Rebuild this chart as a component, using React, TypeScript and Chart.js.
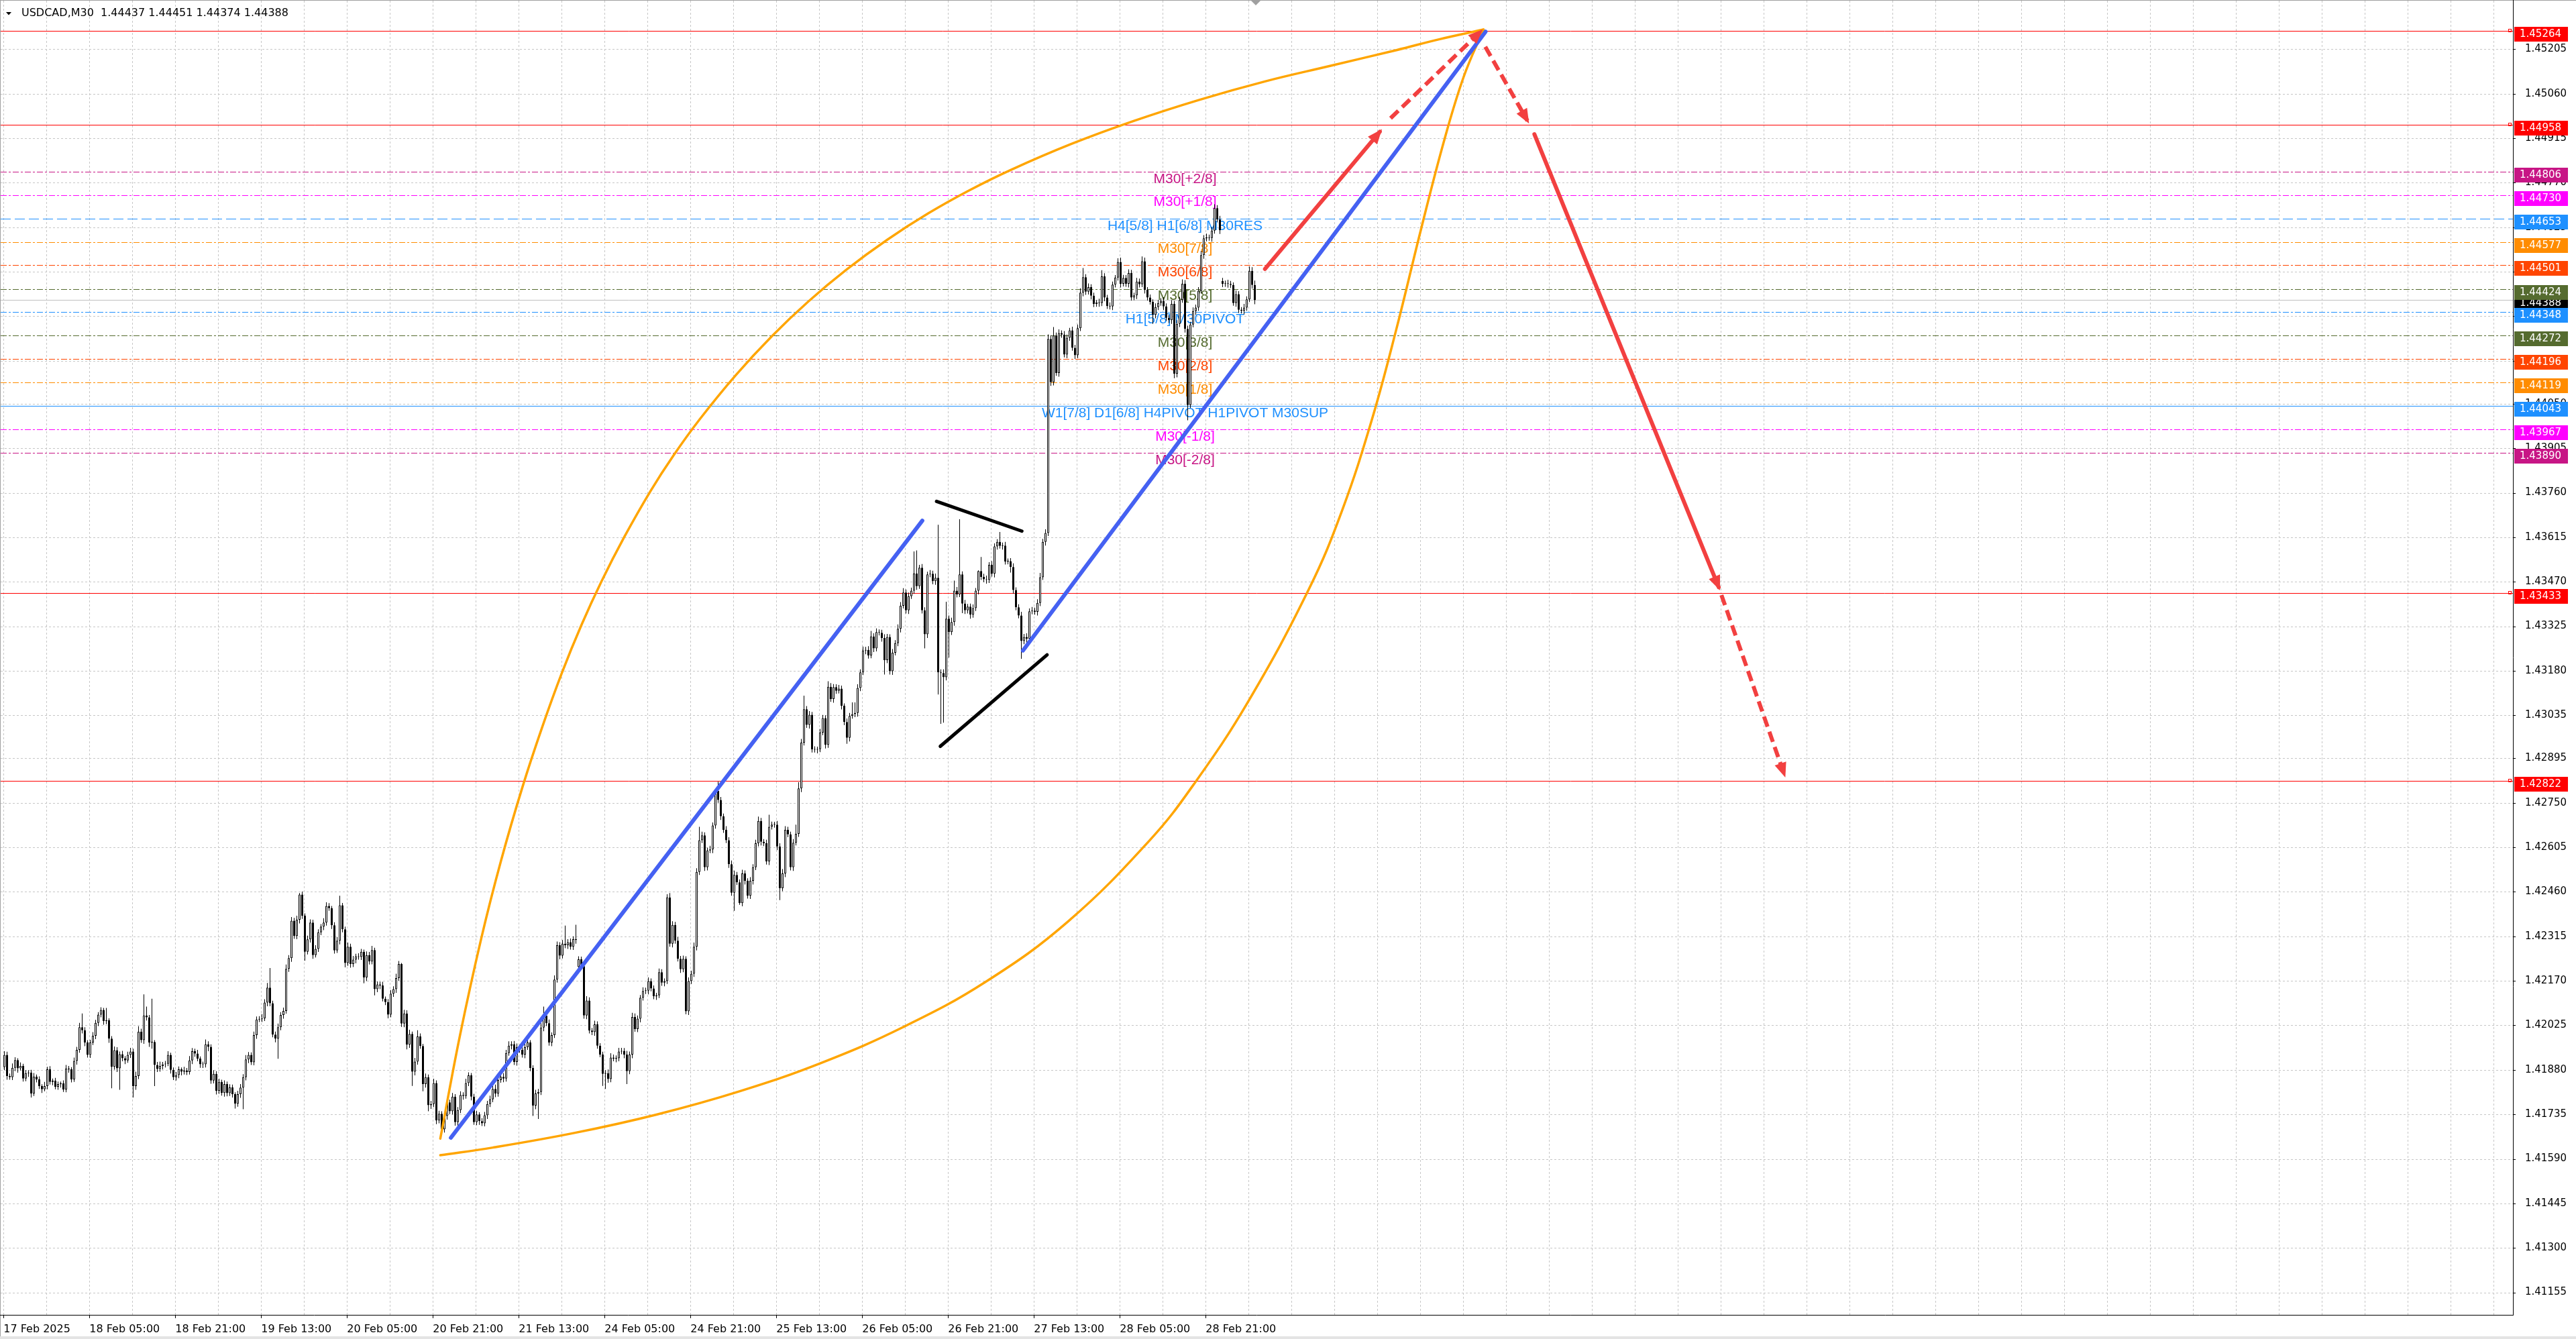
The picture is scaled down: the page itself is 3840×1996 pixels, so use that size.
import React, { useEffect, useRef } from 'react';
import { Chart, registerables } from 'chart.js';

Chart.register(...registerables);

const W = 3840;
const H = 1996;

// ---- candle data (prices in 1e-5 units above 1.00000) ----
const FIRST_OPEN = 41889;
const closePts = [
  41929, 41860, 41856, 41887, 41912, 41885, 41893, 41852, 41869, 41871,
  41803, 41858, 41849, 41827, 41817, 41827, 41882, 41841, 41845, 41825,
  41834, 41836, 41816, 41884, 41882, 41849, 41909, 41945, 42019, 42009,
  41969, 41929, 41969, 41991, 42033, 42060, 42075, 42039, 42042, 41982,
  41890, 41944, 41885, 41931, 41918, 41911, 41929, 41940, 41827, 41860,
  42004, 41977, 42057, 42051, 41969, 41971, 41896, 41883, 41893, 41898,
  41900, 41929, 41880, 41856, 41863, 41882, 41874, 41878, 41873, 41911,
  41941, 41933, 41917, 41898, 41898, 41963, 41955, 41845, 41867, 41812,
  41841, 41805, 41834, 41804, 41823, 41801, 41770, 41801, 41822, 41856,
  41914, 41929, 41905, 41993, 42044, 42046, 42048, 42099, 42148, 42097,
  41995, 41982, 42019, 42059, 42072, 42209, 42244, 42366, 42316, 42369,
  42451, 42382, 42265, 42305, 42360, 42254, 42274, 42328, 42347, 42360,
  42414, 42407, 42351, 42269, 42301, 42416, 42338, 42228, 42281, 42225,
  42239, 42250, 42248, 42265, 42181, 42254, 42233, 42270, 42143, 42158,
  42155, 42112, 42101, 42060, 42128, 42143, 42179, 42225, 42031, 42064,
  41962, 41997, 41874, 41907, 41989, 41958, 41834, 41856, 41765, 41769,
  41837, 41715, 41737, 41686, 41730, 41774, 41745, 41793, 41710, 41749,
  41798, 41795, 41837, 41862, 41793, 41710, 41735, 41713, 41706, 41732,
  41769, 41784, 41818, 41803, 41847, 41857, 41852, 41935, 41959, 41964,
  41906, 41954, 41945, 41930, 41954, 41969, 41886, 41764, 41803, 41808,
  42018, 42057, 42032, 41969, 41993, 42174, 42286, 42252, 42291, 42286,
  42296, 42281, 42306, 42303, 42240, 42218, 42057, 42106, 42008, 42003,
  42028, 41959, 41930, 41867, 41869, 41850, 41920, 41917, 41918, 41940,
  41942, 41930, 41876, 41930, 42052, 42013, 42047, 42115, 42137, 42138,
  42169, 42145, 42120, 42123, 42198, 42164, 42169, 42442, 42291, 42352,
  42301, 42242, 42208, 42242, 42071, 42169, 42193, 42281, 42525, 42628,
  42644, 42540, 42595, 42598, 42676, 42789, 42759, 42706, 42662, 42628,
  42550, 42457, 42515, 42491, 42423, 42520, 42496, 42447, 42496, 42540,
  42618, 42691, 42623, 42618, 42559, 42672, 42679, 42679, 42608, 42472,
  42520, 42662, 42647, 42540, 42620, 42649, 42797, 42946, 43055, 43004,
  43037, 42924, 42923, 42925, 42979, 43026, 42939, 43128, 43088, 43127,
  43115, 43122, 43066, 43013, 42962, 43033, 43039, 43043, 43124, 43175,
  43246, 43248, 43230, 43292, 43253, 43306, 43304, 43287, 43215, 43290,
  43179, 43239, 43270, 43317, 43392, 43435, 43377, 43423, 43441, 43497,
  43456, 43516, 43377, 43299, 43494, 43496, 43472, 43483, 43175, 43173,
  43159, 43350, 43306, 43339, 43441, 43429, 43494, 43399, 43377, 43389,
  43363, 43384, 43441, 43505, 43486, 43478, 43476, 43525, 43496, 43585,
  43600, 43587, 43588, 43536, 43537, 43518, 43443, 43387, 43360, 43277,
  43290, 43285, 43374, 43376, 43372, 43401, 43485, 43600, 43629, 44261,
  44120, 44272, 44150, 44280, 44275, 44210, 44265, 44289, 44232, 44208,
  44296, 44412, 44462, 44415, 44430, 44402, 44375, 44380, 44378, 44465,
  44396, 44368, 44367, 44438, 44461, 44512, 44441, 44460, 44441, 44476,
  44396, 44403, 44448, 44439, 44514, 44421, 44396, 44382, 44340, 44365,
  44378, 44385, 44367, 44330, 44322, 44375, 44148, 44310, 44388, 44441,
  44294, 44046, 44308, 44352, 44363, 44418, 44534, 44589, 44592, 44590,
  44614, 44687, 44650, 44615, 44440, 44442, 44440, 44437, 44378, 44407,
  44356, 44353, 44363, 44390, 44483, 44437, 44388,
];
const upperWick = [
  12, 10, 8, 14, 9, 6, 11, 7, 10, 8,
  9, 12, 7, 10, 6, 14, 8, 10, 7, 9,
  8, 6, 10, 12, 9, 7, 11, 10, 14, 45,
  10, 8, 9, 12, 10, 8, 9, 7, 40, 6,
  8, 12, 10, 9, 11, 7, 10, 12, 9, 14,
  18, 10, 69, 29, 8, 141, 6, 10, 14, 8,
  9, 12, 7, 8, 10, 9, 6, 12, 8, 14,
  10, 8, 12, 7, 9, 16, 10, 8, 12, 9,
  10, 7, 12, 8, 10, 9, 6, 11, 12, 10,
  14, 9, 8, 12, 10, 9, 14, 11, 15, 64,
  8, 10, 12, 9, 11, 14, 10, 12, 9, 13,
  5, 10, 8, 12, 10, 9, 12, 10, 8, 14,
  12, 9, 7, 10, 12, 31, 8, 9, 14, 10,
  12, 8, 10, 9, 7, 12, 10, 14, 8, 10,
  9, 12, 7, 10, 12, 9, 14, 10, 3, 12,
  10, 14, 8, 12, 20, 10, 7, 12, 9, 10,
  14, 9, 10, 8, 12, 10, 9, 12, 8, 10,
  12, 9, 14, 10, 8, 9, 12, 7, 10, 11,
  10, 12, 9, 14, 10, 8, 12, 10, 14, 9,
  10, 12, 8, 9, 12, 10, 8, 9, 12, 10,
  14, 29, 10, 12, 9, 14, 12, 10, 12, 59,
  10, 12, 9, 47, 10, 9, 12, 14, 10, 9,
  12, 10, 8, 9, 10, 12, 14, 10, 9, 12,
  10, 9, 12, 10, 14, 12, 10, 9, 12, 10,
  12, 9, 10, 8, 12, 10, 9, 10, 14, 12,
  10, 12, 9, 10, 8, 12, 10, 14, 12, 44,
  12, 10, 9, 12, 10, 5, 30, 10, 9, 12,
  10, 12, 14, 10, 9, 12, 10, 8, 12, 10,
  12, 14, 10, 9, 12, 39, 10, 9, 12, 10,
  14, 12, 10, 9, 12, 30, 20, 12, 44, 10,
  12, 9, 10, 8, 12, 10, 9, 18, 12, 10,
  9, 12, 10, 8, 12, 10, 38, 34, 12, 10,
  13, 10, 12, 18, 10, 12, 9, 10, 12, 10,
  9, 12, 10, 14, 12, 14, 10, 12, 10, 72,
  75, 9, 12, 10, 9, 12, 10, 14, 173, 10,
  12, 55, 10, 14, 33, 12, 180, 10, 12, 9,
  10, 12, 9, 2, 46, 10, 12, 9, 12, 10,
  9, 32, 10, 12, 9, 10, 12, 9, 10, 12,
  10, 12, 9, 12, 10, 12, 14, 10, 12, 15,
  12, 28, 10, 12, 9, 12, 10, 8, 12, 10,
  12, 14, 30, 10, 12, 9, 10, 8, 12, 20,
  10, 9, 12, 10, 8, 12, 14, 10, 9, 12,
  10, 9, 12, 10, 16, 12, 9, 10, 8, 12,
  10, 9, 12, 10, 9, 12, 10, 12, 10, 14,
  12, 10, 9, 12, 10, 12, 14, 10, 12, 9,
  12, 13, 10, 12, 10, 9, 12, 10, 8, 12,
  10, 9, 12, 10, 14, 12, 14,
];
const lowerWick = [
  10, 12, 8, 9, 11, 14, 7, 10, 9, 12,
  13, 8, 10, 9, 12, 7, 10, 9, 11, 8,
  10, 12, 8, 9, 11, 10, 8, 12, 9, 10,
  12, 9, 10, 8, 11, 10, 9, 12, 10, 14,
  70, 9, 12, 70, 10, 12, 8, 10, 37, 12,
  10, 9, 12, 10, 14, 20, 69, 10, 9, 12,
  10, 8, 12, 9, 11, 10, 12, 9, 10, 8,
  12, 10, 9, 11, 12, 10, 14, 10, 9, 12,
  10, 9, 12, 10, 9, 11, 16, 10, 12, 70,
  10, 12, 9, 10, 12, 8, 10, 9, 12, 10,
  9, 12, 66, 10, 12, 9, 10, 12, 9, 10,
  12, 10, 29, 9, 10, 12, 8, 10, 9, 12,
  10, 9, 12, 10, 8, 12, 10, 14, 9, 12,
  10, 12, 9, 10, 19, 12, 10, 9, 20, 10,
  12, 9, 10, 12, 9, 10, 12, 9, 11, 12,
  15, 10, 46, 12, 10, 9, 24, 12, 20, 12,
  10, 12, 9, 11, 10, 12, 9, 10, 12, 29,
  10, 12, 9, 10, 12, 9, 10, 12, 9, 10,
  12, 10, 9, 12, 10, 9, 12, 10, 9, 12,
  10, 12, 9, 10, 12, 9, 10, 34, 12, 83,
  10, 12, 9, 10, 12, 9, 10, 12, 9, 10,
  12, 9, 10, 12, 10, 9, 10, 12, 9, 10,
  12, 10, 9, 39, 49, 12, 10, 9, 12, 10,
  9, 12, 42, 10, 12, 9, 10, 12, 9, 10,
  12, 9, 10, 12, 9, 10, 12, 9, 10, 12,
  10, 9, 12, 10, 10, 12, 9, 10, 12, 10,
  9, 12, 10, 9, 12, 10, 9, 12, 10, 9,
  12, 10, 59, 9, 5, 10, 12, 9, 10, 12,
  9, 10, 12, 9, 10, 12, 9, 10, 12, 39,
  10, 12, 9, 10, 12, 9, 10, 12, 9, 10,
  12, 10, 9, 12, 10, 9, 12, 10, 9, 12,
  10, 9, 12, 10, 20, 12, 9, 10, 12, 10,
  9, 12, 10, 9, 12, 10, 9, 12, 47, 10,
  11, 12, 9, 10, 12, 9, 10, 12, 9, 10,
  12, 9, 10, 46, 12, 9, 10, 12, 72, 166,
  148, 10, 83, 9, 12, 10, 9, 31, 12, 10,
  13, 10, 9, 12, 10, 9, 12, 10, 9, 12,
  10, 9, 12, 10, 9, 18, 12, 10, 9, 58,
  10, 33, 12, 10, 9, 12, 10, 9, 12, 10,
  12, 10, 9, 12, 10, 9, 12, 10, 9, 12,
  10, 9, 12, 10, 9, 12, 10, 9, 12, 10,
  12, 9, 10, 12, 9, 10, 12, 9, 10, 12,
  10, 9, 12, 10, 9, 12, 10, 9, 30, 12,
  10, 9, 12, 10, 9, 12, 15, 12, 10, 9,
  12, 50, 10, 9, 12, 10, 9, 12, 10, 9,
  12, 10, 9, 12, 10, 9, 12, 10, 9, 12,
  10, 9, 12, 10, 9, 12, 14,
];
// weekend gap opens (bar index -> open)
const gapOpenIndex = [214, 454];
const gapOpenPts = [42215, 44450];

// ---- axes ----
const xTickLabels = [
  '17 Feb 2025', '18 Feb 05:00', '18 Feb 21:00', '19 Feb 13:00', '20 Feb 05:00',
  '20 Feb 21:00', '21 Feb 13:00', '24 Feb 05:00', '24 Feb 21:00', '25 Feb 13:00',
  '26 Feb 05:00', '26 Feb 21:00', '27 Feb 13:00', '28 Feb 05:00', '28 Feb 21:00',
];
const yTickValues = [
  1.45205, 1.4506, 1.44915, 1.4477, 1.44625, 1.4448, 1.44335, 1.4419, 1.4405, 1.43905,
  1.4376, 1.43615, 1.4347, 1.43325, 1.4318, 1.43035, 1.42895, 1.4275, 1.42605, 1.4246,
  1.42315, 1.4217, 1.42025, 1.4188, 1.41735, 1.4159, 1.41445, 1.413, 1.41155,
];

// ---- horizontal levels ----
const levelPrices = [
  1.45264, 1.44958, 1.44806, 1.4473, 1.44653, 1.44577, 1.44501, 1.44424, 1.44348,
  1.44272, 1.44196, 1.44119, 1.44043, 1.43967, 1.4389, 1.43433, 1.42822,
];
const levelColors = [
  '#FF0000', '#FF0000', '#C71585', '#FF00FF', '#1E90FF', '#FF8C00', '#FF4500', '#556B2F', '#1E90FF',
  '#556B2F', '#FF4500', '#FF8C00', '#1E90FF', '#FF00FF', '#C71585', '#FF0000', '#FF0000',
];
const levelStyles = [
  'solid', 'solid', 'dashdot', 'dashdot', 'dash', 'dashdot', 'dashdot', 'dashdot', 'dashdot',
  'dashdot', 'dashdot', 'dashdot', 'solid', 'dashdot', 'dashdot', 'solid', 'solid',
];
const levelTexts = [
  '', '', 'M30[+2/8]', 'M30[+1/8]', 'H4[5/8] H1[6/8] M30RES', 'M30[7/8]', 'M30[6/8]', 'M30[5/8]',
  'H1[5/8] M30PIVOT', 'M30[3/8]', 'M30[2/8]', 'M30[1/8]', 'W1[7/8] D1[6/8] H4PIVOT H1PIVOT M30SUP',
  'M30[-1/8]', 'M30[-2/8]', '', '',
];
const LEVEL_TEXT_BAR = 440;
const currentPrice = 1.44388;
const titleText = 'USDCAD,M30  1.44437 1.44451 1.44374 1.44388';

// ---- drawn objects (bar index, price) ----
const upperArcBar = [
  162.46, 169.81, 177.77, 185.11, 193.07, 200.42, 207.77, 215.11, 222.46, 231.03,
  240.83, 249.4, 259.19, 272.66, 286.13, 299.6, 313.68, 328.99, 344.3, 359.6,
  374.91, 397.56, 420.83, 445.32, 469.81, 494.3, 518.79, 534.7, 551.23,
];
const upperArcPrice = [
  1.41656, 1.41993, 1.4231, 1.42562, 1.42801, 1.42996, 1.43173, 1.4333, 1.4347, 1.43616,
  1.43766, 1.43882, 1.44, 1.44144, 1.44271, 1.44383, 1.44486, 1.44584, 1.4467, 1.44745,
  1.44811, 1.44896, 1.44971, 1.4504, 1.451, 1.45151, 1.45202, 1.45237, 1.45269,
];
const lowerArcBar = [
  162.46, 182.05, 212.66, 243.28, 273.89, 304.5, 335.11, 365.73, 396.34, 426.95,
  443.49, 463.68, 486.33, 498.57, 509.6, 518.79, 527.97, 536.55, 543.89, 551.23,
];
const lowerArcPrice = [
  1.41602, 1.41627, 1.41675, 1.41735, 1.4181, 1.41903, 1.4202, 1.42167, 1.42363, 1.42629,
  1.42813, 1.43082, 1.43449, 1.43703, 1.43997, 1.44294, 1.44619, 1.44907, 1.45116, 1.45269,
];
const trendABar = [166.4, 342.1];
const trendAPrice = [1.41659, 1.43669];
const trendBBar = [379.6, 552.0];
const trendBPrice = [1.43246, 1.45262];
const blackUpperBar = [347.4, 379.2];
const blackUpperPrice = [1.43732, 1.43635];
const blackLowerBar = [348.8, 388.6];
const blackLowerPrice = [1.42934, 1.43232];
const arrowBars = [[469.8, 512.6], [516.6, 550.1], [551.9, 567.6], [570.2, 638.9], [639.9, 663.3]];
const arrowPrices = [[1.44489, 1.44936], [1.4498, 1.45262], [1.45213, 1.44972], [1.44928, 1.43452], [1.43427, 1.42843]];
const arrowDashed = [false, true, true, false, true];

const X_MIN = -1.375;
const X_MAX = 934.875;
const Y_MIN = 1.41082;
const Y_MAX = 1.45363;

const toPrice = (p: number) => 1 + p / 100000;

function dashFor(style: string): number[] {
  if (style === 'dash') return [15, 6];
  if (style === 'dashdot') return [9, 3, 3, 3];
  return [];
}

function hline(ctx: CanvasRenderingContext2D, x1: number, x2: number, y: number) {
  ctx.beginPath();
  ctx.moveTo(x1, y);
  ctx.lineTo(x2, y);
  ctx.stroke();
}
function vline(ctx: CanvasRenderingContext2D, x: number, y1: number, y2: number) {
  ctx.beginPath();
  ctx.moveTo(x, y1);
  ctx.lineTo(x, y2);
  ctx.stroke();
}

const mt4Plugin = {
  id: 'mt4Decor',
  beforeDatasetsDraw(chart: any) {
    const { ctx, chartArea: a, scales } = chart;
    const xs = scales.x;
    const ys = scales.y;
    ctx.save();
    ctx.beginPath();
    ctx.rect(a.left, a.top, a.right - a.left, a.bottom - a.top);
    ctx.clip();
    ctx.lineWidth = 1;
    ctx.strokeStyle = '#c6c6c6';
    ctx.setLineDash([3, 3]);
    xs.ticks.forEach((t: any) => {
      const px = Math.round(xs.getPixelForValue(t.value)) + 0.5;
      vline(ctx, px, a.top, a.bottom);
    });
    ys.ticks.forEach((t: any) => {
      const py = Math.round(ys.getPixelForValue(t.value)) + 0.5;
      hline(ctx, a.left, a.right, py);
    });
    ctx.setLineDash([]);
    ctx.strokeStyle = '#c0c0c0';
    hline(ctx, a.left, a.right, Math.round(ys.getPixelForValue(currentPrice)) + 0.5);
    levelPrices.forEach((p, k) => {
      const py = Math.round(ys.getPixelForValue(p)) + 0.5;
      ctx.strokeStyle = levelColors[k];
      ctx.setLineDash(dashFor(levelStyles[k]));
      hline(ctx, a.left, a.right, py);
    });
    ctx.setLineDash([]);
    levelPrices.forEach((p, k) => {
      if (levelColors[k] !== '#FF0000') return;
      const py = Math.round(ys.getPixelForValue(p));
      ctx.strokeStyle = '#FF0000';
      ctx.strokeRect(a.right - 6.5, py - 2.5, 4, 4);
    });
    ctx.font = '21px "Liberation Sans", Arial, sans-serif';
    ctx.textAlign = 'center';
    ctx.textBaseline = 'middle';
    const tx = xs.getPixelForValue(LEVEL_TEXT_BAR);
    levelPrices.forEach((p, k) => {
      if (!levelTexts[k]) return;
      ctx.fillStyle = levelColors[k];
      ctx.fillText(levelTexts[k], tx, ys.getPixelForValue(p) + 11);
    });
    ctx.restore();
  },
  afterDatasetsDraw(chart: any) {
    const { ctx } = chart;
    ctx.save();
    chart.data.datasets.forEach((ds: any, idx: number) => {
      if (!ds.arrowHead) return;
      const meta = chart.getDatasetMeta(idx);
      const pts = meta.data;
      if (pts.length < 2) return;
      const p0 = pts[pts.length - 2];
      const p1 = pts[pts.length - 1];
      const dx = p1.x - p0.x;
      const dy = p1.y - p0.y;
      const len = Math.hypot(dx, dy) || 1;
      const ux = dx / len;
      const uy = dy / len;
      const tipX = p1.x + ux * 5;
      const tipY = p1.y + uy * 5;
      const L = 22;
      const hw = 9;
      ctx.fillStyle = ds.borderColor;
      ctx.beginPath();
      ctx.moveTo(tipX, tipY);
      ctx.lineTo(tipX - ux * L - uy * hw, tipY - uy * L + ux * hw);
      ctx.lineTo(tipX - ux * L + uy * hw, tipY - uy * L - ux * hw);
      ctx.closePath();
      ctx.fill();
    });
    ctx.restore();
  },
  afterDraw(chart: any) {
    const { ctx, chartArea: a, scales } = chart;
    const xs = scales.x;
    const ys = scales.y;
    ctx.save();
    ctx.setLineDash([]);
    ctx.lineWidth = 1;
    // frame
    ctx.strokeStyle = '#a0a0a0';
    vline(ctx, 0.5, 0, H);
    hline(ctx, 0, W, 0.5);
    ctx.fillStyle = '#e4e4e4';
    ctx.fillRect(0, H - 4, W, 4);
    // axis lines
    ctx.strokeStyle = '#000000';
    vline(ctx, a.right + 0.5, 0, a.bottom + 1);
    hline(ctx, 0, a.right + 1, a.bottom + 0.5);
    ys.ticks.forEach((t: any) => {
      const py = Math.round(ys.getPixelForValue(t.value)) + 0.5;
      hline(ctx, a.right, a.right + 4, py);
    });
    xs.ticks.forEach((t: any, k: number) => {
      if (k % 2 !== 0 || k / 2 >= xTickLabels.length) return;
      const px = Math.round(xs.getPixelForValue(t.value)) + 0.5;
      vline(ctx, px, a.bottom, a.bottom + 5);
    });
    // price labels on the right axis
    ctx.font = '15px "DejaVu Sans", sans-serif';
    ctx.textAlign = 'left';
    ctx.textBaseline = 'middle';
    const drawBox = (price: number, color: string) => {
      const py = ys.getPixelForValue(price);
      ctx.fillStyle = color;
      ctx.fillRect(a.right + 2, Math.round(py) - 6, 80, 22);
      ctx.fillStyle = '#ffffff';
      ctx.fillText(price.toFixed(5), a.right + 10, Math.round(py) + 5);
    };
    drawBox(currentPrice, '#000000');
    levelPrices.forEach((p, k) => drawBox(p, levelColors[k]));
    // title
    ctx.fillStyle = '#000000';
    ctx.beginPath();
    ctx.moveTo(9, 18);
    ctx.lineTo(17, 18);
    ctx.lineTo(13, 22.5);
    ctx.closePath();
    ctx.fill();
    ctx.font = '16px "DejaVu Sans", sans-serif';
    ctx.textBaseline = 'middle';
    ctx.fillText(titleText, 32, 20);
    // chart shift marker
    const sx = xs.getPixelForValue(closePts.length - 1) + 1.5;
    ctx.fillStyle = '#a0a0a0';
    ctx.beginPath();
    ctx.moveTo(sx - 7, 1);
    ctx.lineTo(sx + 7, 1);
    ctx.lineTo(sx, 8);
    ctx.closePath();
    ctx.fill();
    ctx.restore();
  },
};

export default function App() {
  const ref = useRef<HTMLCanvasElement>(null);
  useEffect(() => {
    document.body.style.margin = '0';
    document.body.style.background = '#ffffff';
    const canvas = ref.current;
    if (!canvas) return;

    const opens = closePts.map((c, i) => {
      const g = gapOpenIndex.indexOf(i);
      if (g >= 0) return gapOpenPts[g];
      return i === 0 ? FIRST_OPEN : closePts[i - 1];
    });
    const bodyData = closePts.map((c, i) => ({
      x: i,
      y: [toPrice(Math.min(opens[i], c)), toPrice(Math.max(opens[i], c))],
    }));
    const wickData = closePts.map((c, i) => ({
      x: i,
      y: [toPrice(Math.min(opens[i], c) - lowerWick[i]), toPrice(Math.max(opens[i], c) + upperWick[i])],
    }));
    const bodyColors = closePts.map((c, i) => (c >= opens[i] ? '#ffffff' : '#000000'));

    const pts = (bars: number[], prices: number[]) => bars.map((b, i) => ({ x: b, y: prices[i] }));
    const lineDs = (data: any[], color: string, width: number, extra: any = {}) => ({
      type: 'line',
      data,
      borderColor: color,
      backgroundColor: color,
      borderWidth: width,
      pointRadius: 0,
      pointHoverRadius: 0,
      fill: false,
      tension: 0,
      borderCapStyle: 'round',
      borderJoinStyle: 'round',
      order: 2,
      ...extra,
    });

    const datasets: any[] = [
      {
        type: 'bar',
        label: 'wick',
        data: wickData,
        backgroundColor: '#000000',
        borderWidth: 0,
        barThickness: 1,
        grouped: false,
        minBarLength: 1,
        inflateAmount: 0,
        order: 10,
      },
      {
        type: 'bar',
        label: 'body',
        data: bodyData,
        backgroundColor: bodyColors,
        borderColor: '#000000',
        borderWidth: 1,
        borderSkipped: false,
        barThickness: 3,
        grouped: false,
        minBarLength: 1,
        inflateAmount: 0,
        order: 9,
      },
      lineDs(pts(upperArcBar, upperArcPrice), '#FFA500', 3.5, { tension: 0.4, order: 4 }),
      lineDs(pts(lowerArcBar, lowerArcPrice), '#FFA500', 3.5, { tension: 0.4, order: 4 }),
      lineDs(pts(trendABar, trendAPrice), '#4561F2', 6, { order: 3 }),
      lineDs(pts(trendBBar, trendBPrice), '#4561F2', 6, { order: 3 }),
      lineDs(pts(blackUpperBar, blackUpperPrice), '#000000', 5, { order: 3 }),
      lineDs(pts(blackLowerBar, blackLowerPrice), '#000000', 5, { order: 3 }),
    ];
    arrowBars.forEach((bars, k) => {
      datasets.push(
        lineDs(pts(bars, arrowPrices[k]), '#F24040', 6, {
          borderDash: arrowDashed[k] ? [16, 8] : [],
          borderCapStyle: arrowDashed[k] ? 'butt' : 'round',
          arrowHead: true,
          order: 1,
        })
      );
    });

    const chart = new Chart(canvas, {
      type: 'bar',
      data: { datasets },
      options: {
        animation: false,
        responsive: false,
        devicePixelRatio: 1,
        events: [],
        layout: { padding: { left: 1, top: 1, right: 0, bottom: 0 }, autoPadding: false },
        plugins: { legend: { display: false }, tooltip: { enabled: false }, title: { display: false } },
        scales: {
          x: {
            type: 'linear',
            min: X_MIN,
            max: X_MAX,
            offset: false,
            position: 'bottom',
            grid: { display: false },
            border: { display: false },
            afterBuildTicks: (scale: any) => {
              const t: any[] = [];
              for (let k = 0; -0.3 + 16 * k < X_MAX; k++) t.push({ value: -0.3 + 16 * k });
              scale.ticks = t;
            },
            afterFit: (scale: any) => {
              scale.height = 36;
              scale.paddingLeft = 0;
              scale.paddingRight = 0;
              scale.paddingTop = 0;
              scale.paddingBottom = 0;
            },
            ticks: {
              autoSkip: false,
              maxRotation: 0,
              minRotation: 0,
              align: 'start',
              padding: 4,
              color: '#000000',
              font: { family: 'DejaVu Sans', size: 16 },
              callback: (_v: any, idx: number) => (idx % 2 === 0 && idx / 2 < xTickLabels.length ? xTickLabels[idx / 2] : ''),
            },
          },
          y: {
            type: 'linear',
            position: 'right',
            min: Y_MIN,
            max: Y_MAX,
            grid: { display: false },
            border: { display: false },
            afterBuildTicks: (scale: any) => {
              scale.ticks = yTickValues.map((v) => ({ value: v }));
            },
            afterFit: (scale: any) => {
              scale.width = 94;
              scale.paddingLeft = 0;
              scale.paddingRight = 0;
              scale.paddingTop = 0;
              scale.paddingBottom = 0;
            },
            ticks: {
              autoSkip: false,
              padding: 10,
              color: '#000000',
              font: { family: 'DejaVu Sans', size: 15 },
              callback: (v: any) => Number(v).toFixed(5),
            },
          },
        },
      } as any,
      plugins: [mt4Plugin as any],
    } as any);
    return () => chart.destroy();
  }, []);
  return (
    <div style={{ width: W, height: H, position: 'relative', background: '#ffffff' }}>
      <canvas ref={ref} width={W} height={H} style={{ width: W, height: H, display: 'block' }} />
    </div>
  );
}
